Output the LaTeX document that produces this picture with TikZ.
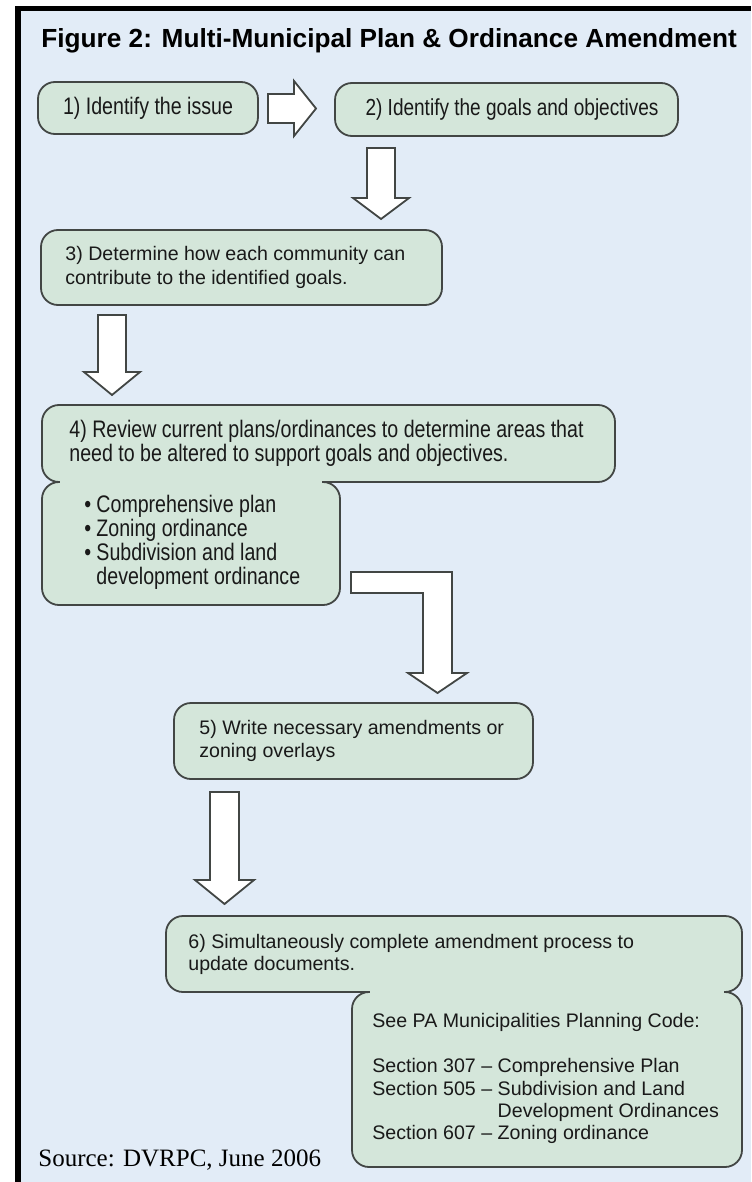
\documentclass[tikz,border=0pt]{standalone}
\usepackage{fontspec}
\setmainfont{Liberation Sans}
\newfontfamily\narrowfont[FakeStretch=0.82]{Liberation Sans}
\newfontfamily\sourcefont{Liberation Serif}

\definecolor{pagebg}{RGB}{226,236,247}
\definecolor{stepfill}{RGB}{212,230,218}
\definecolor{stepline}{RGB}{66,70,68}

\tikzset{
  stepbox/.style={draw=stepline, fill=stepfill, line width=0.9pt, rounded corners=8.5pt},
  fatarrow/.style={draw=stepline, fill=white, line width=0.9pt, line join=miter},
  steptext/.style={inner sep=0pt, anchor=west, align=left, text=black!90, font=\fontsize{9.8}{11.5}\selectfont},
  narrowtext/.style={inner sep=0pt, anchor=west, align=left, text=black!90, font=\narrowfont\fontsize{11.95}{11.2}\selectfont},
}

\begin{document}
\begin{tikzpicture}[x=0.5pt, y=-0.5pt]
  %%%%% START %%%%%
  \useasboundingbox (0,0) rectangle (751,1182);
  \fill[white] (0,0) rectangle (751,1182);
  \fill[pagebg] (21,11) rectangle (751,1182);
  \fill[black] (15,6) rectangle (751,11);
  \fill[black] (15,6) rectangle (21,1182);

  \node[inner sep=0pt, anchor=base west, font=\bfseries\fontsize{13.1}{15}\selectfont] (title) at (41,48) {Figure 2: Multi-Municipal Plan \& Ordinance Amendment};

  % steps 1 and 2
  \draw[stepbox] (38,82) rectangle (258,134);
  \node[narrowtext, anchor=center] (issue) at (148,108) {1) Identify the issue};
  \draw[fatarrow] (268,94) -- (294,94) -- (294,81) -- (316,108.5) -- (294,136) -- (294,123) -- (268,123) -- cycle;
  \draw[stepbox] (335,83) rectangle (678,136);
  \node[narrowtext, anchor=center, font=\narrowfont\fontsize{11.6}{11.2}\selectfont] (goals) at (512,109.5) {2) Identify the goals and objectives};
  \draw[fatarrow] (367,148) -- (395,148) -- (395,198) -- (409,198) -- (381,219) -- (353,198) -- (367,198) -- cycle;

  % step 3
  \draw[stepbox] (41,230) rectangle (442,305);
  \node[steptext, font=\fontsize{9.8}{12}\selectfont] (contribute) at (65,267.5) {3) Determine how each community can\\contribute to the identified goals.};
  \draw[fatarrow] (98,315) -- (126,315) -- (126,372) -- (140,372) -- (112,395) -- (84,372) -- (98,372) -- cycle;

  % step 4 with its list
  \draw[stepbox] (42,405) rectangle (615,482);
  \draw[stepbox] (42,482) rectangle (340,605);
  \fill[stepfill] (60,476) rectangle (322,488);
  \node[narrowtext, font=\narrowfont\fontsize{11.95}{11}\selectfont] (review) at (69,443.5) {4) Review current plans/ordinances to determine areas that\\need to be altered to support goals and objectives.};
  \node[narrowtext, font=\narrowfont\fontsize{11.95}{11.35}\selectfont] (plans) at (84,543.5) {%
    \begin{tabular}{@{}l@{\hspace{2.6pt}}l@{}}
      \textbullet & Comprehensive plan\\
      \textbullet & Zoning ordinance\\
      \textbullet & Subdivision and land\\
                  & development ordinance
    \end{tabular}};
  \draw[fatarrow] (351,572) -- (452,572) -- (452,673) -- (467,673) -- (437.5,693) -- (408,673) -- (423,673) -- (423,593) -- (351,593) -- cycle;

  % step 5
  \draw[stepbox] (174,703) rectangle (533,779);
  \node[steptext] (amend) at (199,741) {5) Write necessary amendments or\\zoning overlays};
  \draw[fatarrow] (210,792) -- (239,792) -- (239,880) -- (254,880) -- (224.5,904) -- (195,880) -- (210,880) -- cycle;

  % step 6 with the code sections
  \draw[stepbox] (166,916) rectangle (742,992);
  \draw[stepbox] (352,992) rectangle (742,1167);
  \fill[stepfill] (370,986) rectangle (724,998);
  \node[steptext, font=\fontsize{9.8}{11}\selectfont] (update) at (188,954) {6) Simultaneously complete amendment process to\\update documents.};
  \node[steptext, font=\fontsize{9.8}{11.2}\selectfont] (mpc) at (372,1079.5) {%
    \begin{tabular}{@{}l@{\ }l@{}}
      \multicolumn{2}{@{}l@{}}{See PA Municipalities Planning Code:}\\
      \\
      Section 307 \textendash & Comprehensive Plan\\
      Section 505 \textendash & Subdivision and Land\\
                              & Development Ordinances\\
      Section 607 \textendash & Zoning ordinance
    \end{tabular}};

  \node[inner sep=0pt, anchor=base west, font=\sourcefont\fontsize{12.5}{14}\selectfont] (source) at (38,1166) {Source: DVRPC, June 2006};
  %%%%% END %%%%%
\end{tikzpicture}
\end{document}
